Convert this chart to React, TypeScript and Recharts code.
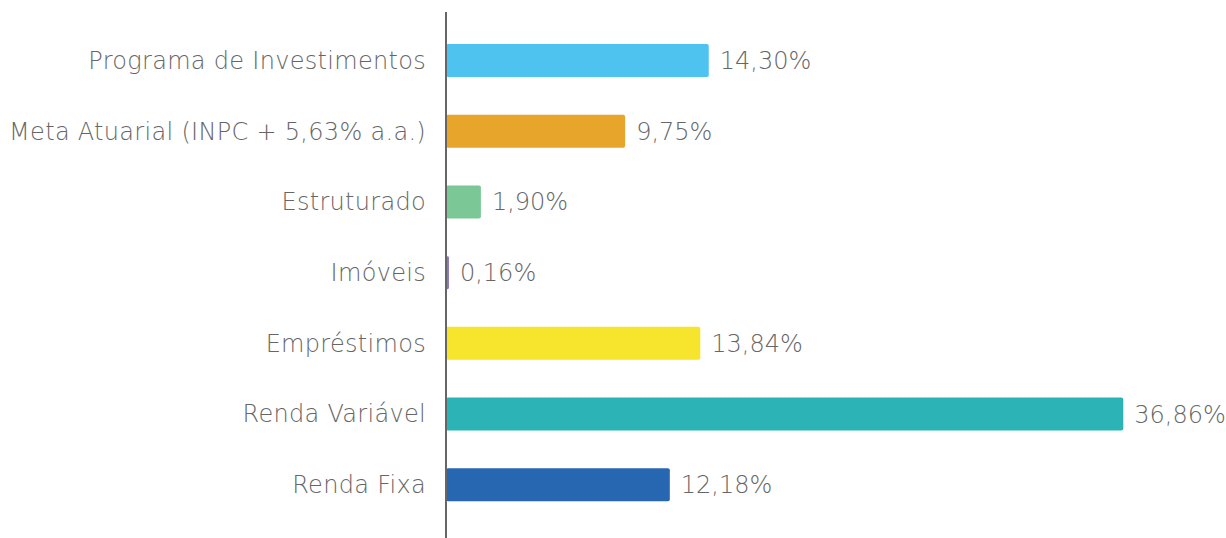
import React from "react";
import { BarChart, Bar, XAxis, YAxis, Cell, LabelList } from "recharts";

const categories = [
  "Programa de Investimentos",
  "Meta Atuarial (INPC + 5,63% a.a.)",
  "Estruturado",
  "Imóveis",
  "Empréstimos",
  "Renda Variável",
  "Renda Fixa",
];
const values = [14.3, 9.75, 1.9, 0.16, 13.84, 36.86, 12.18];
const colors = ["#4FC3F0", "#E8A52C", "#7BC896", "#8A74C9", "#F6E52C", "#2CB3B5", "#2766B0"];

const data = categories.map((name, i) => ({ name, value: values[i] }));

const fmt = (v: number) => v.toFixed(2).replace(".", ",") + "%";

const FONT = "'DejaVu Sans', sans-serif";

export default function App() {
  return (
    <div style={{ position: "absolute", left: 0, top: 0, width: 1226, height: 538, background: "#fff" }}>
      <BarChart
        width={1226}
        height={538}
        data={data}
        layout="vertical"
        margin={{ top: 12, right: 45, bottom: 0, left: 0 }}
        barSize={33}
      >
        <XAxis type="number" domain={[0, 40]} hide />
        <YAxis
          type="category"
          dataKey="name"
          width={446}
          axisLine={{ stroke: "#666", strokeWidth: 2 }}
          tickLine={false}
          tickSize={0}
          tickMargin={20}
          padding={{ top: 13, bottom: 18 }}
          tick={{ fill: "#666", fontSize: 24, fontFamily: FONT, fontWeight: 200, letterSpacing: 0.3 }}
          interval={0}
        />
        <Bar dataKey="value" isAnimationActive={false} radius={2}>
          {data.map((d, i) => (
            <Cell key={d.name} fill={colors[i]} />
          ))}
          <LabelList
            dataKey="value"
            position="right"
            offset={11}
            formatter={(v: any) => fmt(Number(v))}
            style={{ fill: "#666", fontSize: 24, fontFamily: FONT, fontWeight: 200 }}
          />
        </Bar>
      </BarChart>
    </div>
  );
}
